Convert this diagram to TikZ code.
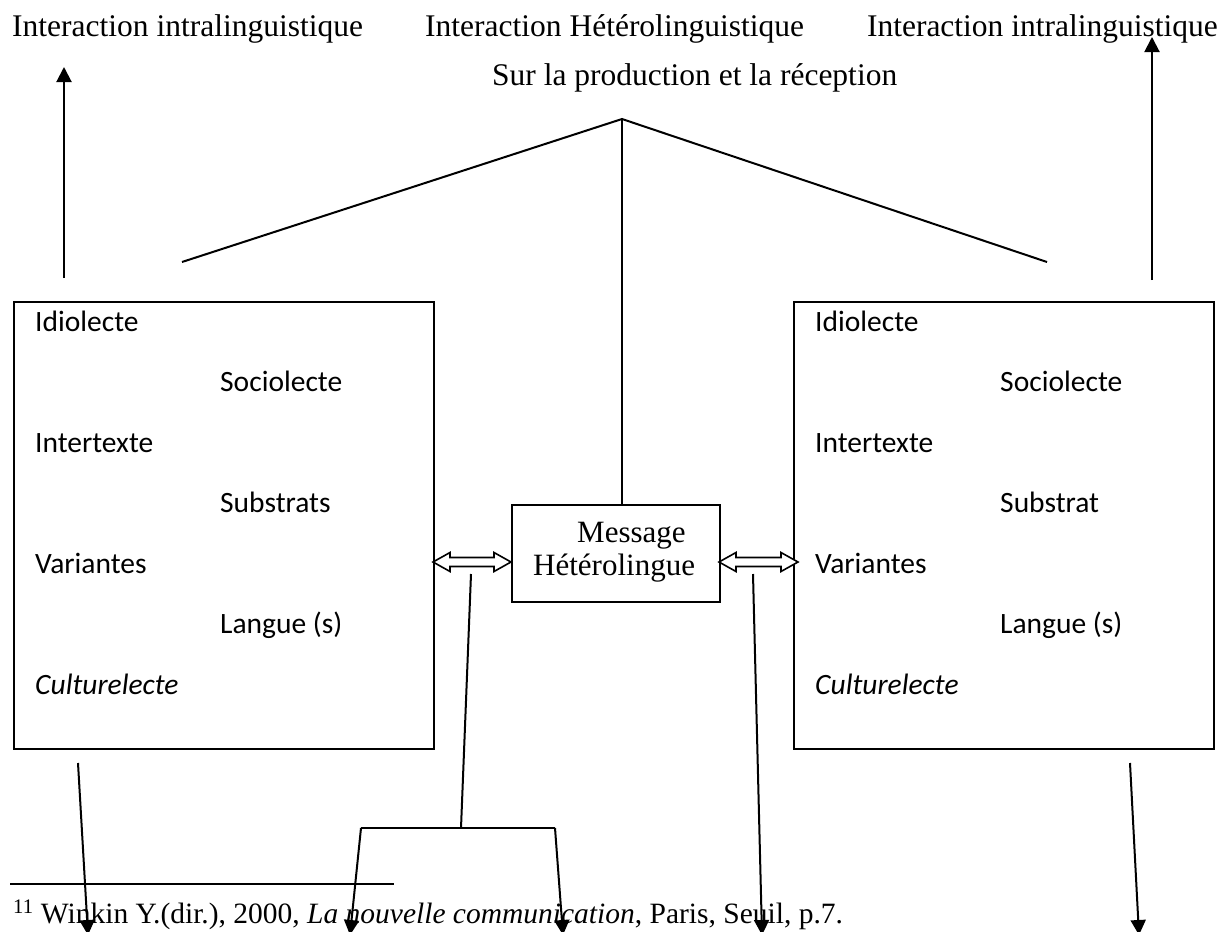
\documentclass[tikz,border=0pt]{standalone}
\usepackage{fontspec}
\setmainfont{Liberation Serif}
\newfontfamily\calib{Carlito}
\usetikzlibrary{arrows.meta}
\tikzset{
  ln/.style={line width=2pt},
  arr/.style={line width=2pt,-{Triangle[width=15pt,length=15pt]}},
  bx/.style={draw,line width=2pt,inner sep=0pt,anchor=north west},
  ttl/.style={font=\fontsize{31.5}{36}\selectfont,anchor=base west,inner sep=0pt},
  itm/.style={font=\calib\fontsize{29.5}{34}\selectfont,anchor=base west,inner sep=0pt},
  msg/.style={font=\fontsize{31}{36}\selectfont,anchor=base west,inner sep=0pt},
  dbl/.style={draw,line width=1.6pt,fill=white,line join=miter},
}
\begin{document}
\begin{tikzpicture}[x=1pt,y=-1pt]
\useasboundingbox (0,0) rectangle (1224,932);
% titles
\node[ttl] (t1) at (12,36) {Interaction intralinguistique};
\node[ttl] (t2) at (425,36) {Interaction Hétérolinguistique};
\node[ttl,anchor=base east] (t3) at (1218,36) {Interaction intralinguistique};
\node[ttl] (t4) at (492,85) {Sur la production et la réception};
% boxes
\node[bx,minimum width=420pt,minimum height=447pt] (L) at (13,301) {};
\node[bx,minimum width=420pt,minimum height=447pt] (R) at (793,301) {};
\node[bx,minimum width=208pt,minimum height=97pt] (M) at (511,504) {};
\node[msg] (m1) at (577,542) {Message};
\node[msg] (m2) at (533,575) {Hétérolingue};
% left box items
\node[itm] (l1) at (35,331) {Idiolecte};
\node[itm] (l2) at (220,391.5) {Sociolecte};
\node[itm] (l3) at (35,452) {Intertexte};
\node[itm] (l4) at (220,512) {Substrats};
\node[itm] (l5) at (35,573) {Variantes};
\node[itm] (l6) at (220,633.5) {Langue (s)};
\node[itm] (l7) at (35,694) {\itshape Culturelecte};
% right box items
\node[itm] (r1) at (815,331) {Idiolecte};
\node[itm] (r2) at (1000,391.5) {Sociolecte};
\node[itm] (r3) at (815,452) {Intertexte};
\node[itm] (r4) at (1000,512) {Substrat};
\node[itm] (r5) at (815,573) {Variantes};
\node[itm] (r6) at (1000,633.5) {Langue (s)};
\node[itm] (r7) at (815,694) {\itshape Culturelecte};
% coordinates
\coordinate (apex) at (622,119);
\coordinate (aL) at (182,262);
\coordinate (aR) at (1047,262);
\coordinate (upLs) at (64,278);
\coordinate (upLe) at (64,67);
\coordinate (upRs) at (1152,280);
\coordinate (upRe) at (1152,37);
\coordinate (d1s) at (78,763);
\coordinate (d1e) at (88,935);
\coordinate (brs) at (471,574);
\coordinate (brm) at (461,828);
\coordinate (brl) at (361,828);
\coordinate (brr) at (555,828);
\coordinate (d2e) at (350,935);
\coordinate (d3e) at (563,935);
\coordinate (d4s) at (753,574);
\coordinate (d4e) at (762,935);
\coordinate (d5s) at (1130,763);
\coordinate (d5e) at (1139,935);
\coordinate (fr1) at (10,884);
\coordinate (fr2) at (394,884);
% tree lines
\draw[ln] (aL) -- (apex) -- (aR);
\draw[ln] (apex) -- (M.north -| apex);
% up arrows
\draw[arr] (upLs) -- (upLe);
\draw[arr] (upRs) -- (upRe);
% double arrows (hollow)
\draw[dbl] (433,562) -- (450,552.5) -- (450,557.5) -- (494,557.5) -- (494,552.5) -- (511,562)
  -- (494,571.5) -- (494,566.5) -- (450,566.5) -- (450,571.5) -- cycle;
\draw[dbl] (719,562) -- (736,552.5) -- (736,557.5) -- (781,557.5) -- (781,552.5) -- (798,562)
  -- (781,571.5) -- (781,566.5) -- (736,566.5) -- (736,571.5) -- cycle;
% downward lines
\draw[ln] (brs) -- (brm);
\draw[ln,line join=miter] (brl) -- (brr);
\draw[arr] (brl) -- (d2e);
\draw[arr] (brr) -- (d3e);
\draw[arr] (d4s) -- (d4e);
\draw[arr] (d1s) -- (d1e);
\draw[arr] (d5s) -- (d5e);
% footnote
\draw[line width=1.6pt] (fr1) -- (fr2);
\node[anchor=base west,inner sep=0pt,font=\fontsize{29.5}{33}\selectfont] (fn) at (13,923)
  {\textsuperscript{11} Winkin Y.(dir.), 2000, \textit{La nouvelle communication}, Paris, Seuil, p.7.};
\end{tikzpicture}
\end{document}
